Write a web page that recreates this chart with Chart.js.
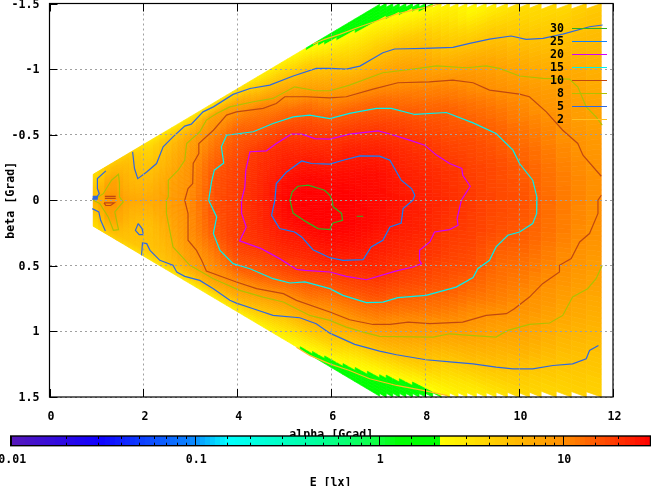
<!DOCTYPE html>
<html><head><meta charset="utf-8">
<style>html,body{margin:0;padding:0;background:#fff}canvas{position:absolute;left:0;top:0}</style>
<script src="https://cdn.jsdelivr.net/npm/chart.js@4"></script>
</head><body>
<canvas id="map" width="651" height="486"></canvas>
<canvas id="bar" width="651" height="486"></canvas>
<script>
const alphaNodes=[0.93,1.3,1.7,2.1,2.5,3,3.5,4,4.5,5,5.5,6,6.5,7,7.5,8,8.5,9,9.5,10,10.5,11,11.4,11.75];
const fanNodes=[-0.2125,-0.1859,-0.1594,-0.1328,-0.1062,-0.0797,-0.0531,-0.0266,0,0.0266,0.0531,0.0797,0.1062,0.1328,0.1594,0.1859,0.2125];
const illuminance=[
[3.2,3.4,3.6,3.8,4,4.3,4.5,4.8,5.5,5.5,5.2,4.6,4.3,4,3.8,3.5,3.3],
[4.4,5.3,6,7,8.2,8.5,9,10,9,10,9,8.5,8.2,7,6,5.3,4.4],
[4,5,5.4,5.6,5.8,6,6.3,6.8,7.5,6.8,6.3,6,5.6,5.3,5.1,4.9,3.8],
[3.1,3.8,4.2,4.6,5,5.4,5.8,6.3,7,6.3,5.8,5.3,5.1,5.1,5,4.7,3.2],
[3,4.6,5.3,5.8,6.2,6.8,7.4,7.8,8.1,7.8,7.3,6.8,6.4,6,5.6,5.2,3.3],
[2.9,5.2,7.6,8.4,9,9.6,9.8,10,10.5,10.2,10.1,10,9.6,8.8,8.1,5.8,2.9],
[3,8,9.6,11.5,13,14.5,15.5,16,16,16,15.5,14.5,12.5,11,10,6.8,2.9],
[3,7.6,11,14.5,16,17.5,18.5,19,19.3,19.2,19.2,19.3,17,14.5,9.9,6.5,2.8],
[2.7,5.3,11,13.5,17,20.5,21.5,22.5,23,22.5,22,20.2,17,14,8.8,5.1,2.6],
[2.6,4.9,9.2,13.5,18,22,24,27,28.5,27,24.5,22,18,12.5,7.6,4.2,2.4],
[2.1,4.5,7.3,12.5,17,21,25,29,33,31,26,22,17.5,12.5,7.7,4,2],
[1.6,3.4,5.9,9.6,14.7,19.8,24,28,31,31,27.5,23,16.5,11,6.8,3.7,1.6],
[1.5,2.9,4.7,8.7,14.3,19.8,24.6,28,29.5,29.5,26.5,22,16.5,11,6,2.8,1.5],
[1.5,2.8,5,8.5,13.8,19,24,27.5,28,27,24,21.5,16,10.5,5.6,2.4,1.5],
[1.4,2.35,4.9,8,12,17.5,21.8,24,25.5,24.5,22,18.5,13.5,8.7,5,2,1.4],
[1.6,2,4.2,7,11,15.5,20,22.5,23.5,23,20.5,16.6,12,7.4,4.2,1.6,1.5],
[1.6,1.9,3.3,5.2,10.2,14.7,17.5,20.5,21.5,20,18,15,10.6,6,3.2,1.9,1.6],
[1.8,2,2.4,5,8.9,12.8,16.5,18.5,19.5,18.5,17,12.8,9,5.6,2.9,2.2,2],
[2,2.2,2.5,4.8,8,11.3,15,17,17.5,16.5,13.5,11.5,7.7,5.1,2.8,2.5,2.3],
[2.5,2.6,2.7,4.2,6.6,10,12.5,15.2,16.5,15.2,12.6,10,7.3,4.6,3,2.9,2.8],
[2.8,2.9,3,3.8,5.8,8.3,11,12.8,13.8,13,11,8.6,6.1,4,3.3,3.2,3],
[3.2,3.3,3.4,3.7,5.5,8.1,9.3,10.9,11.7,11,9.4,7.2,5.2,3.9,3.6,3.5,3.4],
[3.8,3.9,4,4.1,5.6,6.9,8.3,10,10.5,9.9,8.3,6.6,5,4,3.9,3.8,3.7],
[4,4.1,4.2,4.3,5.4,6.5,7.8,9.1,9.8,9.2,7.6,6.2,4.6,3.8,3.7,3.6,3.5]];
const columnEdges=[0.93,1.05,1.18,1.31,1.44,1.57,1.7,1.83,1.96,2.09,2.22,2.35,2.48,2.61,2.74,2.87,3,3.13,3.26,3.39,3.52,3.65,3.78,3.91,4.04,4.17,4.3,4.43,4.56,4.69,4.82,4.95,5.08,5.21,5.34,5.47,5.6,5.73,5.86,5.99,6.12,6.25,6.38,6.51,6.64,6.77,6.9,7.03,7.17,7.31,7.45,7.59,7.73,7.87,8.01,8.16,8.34,8.52,8.7,8.89,9.09,9.3,9.51,9.75,9.99,10.22,10.47,10.79,11.11,11.43,11.75];
const legendLabels=['30','25','20','15','10','8','5','2'];
const legendColors=['#30b020','#1080ff','#d000ff','#00f0f0','#c04810','#b0c000','#3068e0','#ffc020'];
const xTicks=[0,2,4,6,8,10,12];
const yTicks=[-1.5,-1,-0.5,0,0.5,1,1.5];
const cbMajors=[0.01,0.1,1,10];
const cbStops=[[0.01,[88,24,184]],[0.0305,[16,0,255]],[0.1,[10,138,255]],[0.152,[0,255,255]],[0.45,[0,255,160]],[1,[16,255,64]],[1.3,[0,255,0]],[2.149,[0,255,0]],[2.15,[255,255,0]],[10,[255,144,0]],[30,[255,0,0]]];
const c30=[[6.02,0],[6.04,.05],[6.22,.10],[6.24,.153],[6.04,.173],[5.99,.204],[5.97,.224],[5.72,.216],[5.47,.165],[5.19,.10],[5.12,0],[5.17,-.064],[5.29,-.107],[5.51,-.115],[5.86,-.076],[5.97,-.038],[6.02,0],null,[6.54,.122],[6.68,.122]];
const c25=[[4.80,0],[4.83,-.127],[5.05,-.216],[5.37,-.30],[5.58,-.28],[5.97,-.275],[6.25,-.305],[6.61,-.338],[7.03,-.336],[7.25,-.305],[7.49,-.153],[7.71,-.089],[7.78,-.038],[7.74,0],[7.53,.064],[7.49,.173],[7.25,.204],[7.10,.305],[6.85,.356],[6.68,.453],[6.25,.458],[5.97,.438],[5.61,.377],[5.37,.28],[5.22,.242],[4.90,.216],[4.73,.115],[4.80,0]];
const c20=[[4.09,0],[4.16,-.10],[4.18,-.23],[4.27,-.37],[4.62,-.377],[4.83,-.433],[5.15,-.504],[5.37,-.504],[5.65,-.47],[5.97,-.466],[6.39,-.504],[7.0,-.529],[7.21,-.509],[7.67,-.458],[7.99,-.42],[8.24,-.344],[8.52,-.28],[8.78,-.242],[8.80,-.19],[8.96,-.107],[8.77,0],[8.68,.14],[8.70,.19],[8.52,.224],[8.20,.242],[8.10,.318],[7.88,.382],[7.88,.458],[7.92,.483],[7.74,.509],[7.39,.539],[6.75,.606],[6.32,.58],[5.97,.547],[5.44,.534],[5.26,.527],[4.90,.445],[4.51,.369],[4.05,.31],[4.19,.204],[4.09,.10],[4.09,0]];
const c15=[[3.39,0],[3.45,-.14],[3.51,-.229],[3.71,-.285],[3.66,-.407],[3.77,-.496],[4.34,-.522],[4.76,-.585],[5.19,-.636],[5.54,-.649],[5.97,-.623],[6.39,-.662],[6.96,-.70],[7.28,-.70],[7.78,-.654],[8.45,-.669],[9.02,-.59],[9.51,-.509],[9.87,-.382],[10.01,-.28],[10.29,-.153],[10.38,-.025],[10.37,0],[10.38,.10],[10.29,.178],[10.01,.242],[9.76,.267],[9.51,.356],[9.37,.458],[9.12,.522],[9.02,.59],[8.66,.662],[8.02,.725],[7.42,.743],[7.10,.776],[6.75,.781],[6.25,.725],[5.97,.674],[5.44,.623],[5.12,.631],[4.76,.598],[4.27,.522],[3.91,.483],[3.63,.382],[3.49,.254],[3.56,.127],[3.39,0]];
const c10=[[2.88,0],[2.95,-.089],[3.05,-.127],[3.06,-.28],[3.18,-.356],[3.18,-.433],[3.49,-.534],[3.77,-.649],[3.98,-.674],[4.55,-.70],[4.83,-.738],[5.01,-.789],[5.47,-.789],[5.97,-.781],[6.32,-.789],[6.89,-.847],[7.42,-.896],[8.09,-.903],[8.59,-.916],[9.02,-.896],[9.37,-.84],[10.01,-.809],[10.22,-.789],[10.58,-.674],[10.93,-.534],[11.25,-.433],[11.36,-.344],[11.75,-.183],null,[11.75,-.038],[11.68,0],[11.68,.10],[11.5,.254],[11.29,.318],[11.11,.445],[10.86,.496],[10.86,.547],[10.5,.636],[10.22,.738],[9.90,.827],[9.73,.865],[9.30,.878],[8.80,.929],[8.10,.941],[7.64,.929],[7.25,.947],[6.89,.947],[6.39,.911],[5.97,.852],[5.26,.763],[4.98,.712],[4.41,.674],[3.98,.623],[3.34,.539],[3.24,.458],[3.13,.382],[2.95,.305],[2.95,.102],[2.88,0],null,[1.18,-.03],[1.41,-.03],null,[1.18,-.015],[1.41,-.015],null,[1.16,.02],[1.38,.02],[1.3,.04],[1.2,.04],[1.16,.02]];
const c8=[[2.53,-.025],[2.53,-.153],[2.74,-.229],[2.88,-.305],[2.92,-.433],[3.2,-.522],[3.34,-.611],[3.56,-.662],[3.84,-.712],[4.34,-.751],[4.76,-.776],[5.22,-.865],[5.68,-.835],[5.97,-.835],[6.39,-.878],[7.1,-.972],[7.74,-1.0],[8.24,-1.025],[8.88,-1.01],[9.3,-1.025],[9.58,-1.005],[10.01,-.947],[10.51,-.929],[11.07,-.924],[11.25,-.865],[11.43,-.712],[11.64,-.636],[11.77,-.573],null,[11.77,.496],[11.64,.598],[11.46,.674],[11.14,.738],[10.93,.878],[10.65,.936],[10.22,.947],[9.76,.992],[9.51,1.043],[8.95,1.03],[8.52,1.018],[8.17,1.043],[7.03,1.038],[6.68,1.005],[6.32,.967],[5.97,.916],[5.54,.878],[4.98,.776],[4.55,.738],[4.05,.687],[3.49,.598],[2.99,.496],[2.63,.356],[2.49,.10],[2.49,0],[2.53,-.025],null,[.93,0],[1.145,-.05],[1.32,-.153],[1.47,-.198],[1.49,-.127],[1.49,-.025],[1.57,.013],[1.39,.089],[1.47,.224],[1.36,.229],[1.25,.127],[1.07,.025],[.93,0]];
const c5=[[1.77,-.369],[1.81,-.242],[1.88,-.165],[2.07,-.216],[2.28,-.28],[2.42,-.407],[2.63,-.483],[2.88,-.565],[3.02,-.58],[3.27,-.674],[3.49,-.712],[3.91,-.807],[4.27,-.852],[4.69,-.878],[5.19,-.947],[5.68,-1.005],[5.97,-1.005],[6.32,-1.0],[6.61,-1.023],[6.89,-1.081],[7.1,-1.125],[7.35,-1.153],[7.99,-1.158],[8.59,-1.165],[8.95,-1.196],[9.37,-1.229],[9.83,-1.252],[10.15,-1.226],[10.51,-1.234],[10.93,-1.267],[11.5,-1.323],[11.78,-1.336],null,[11.69,1.107],[11.5,1.145],[11.43,1.209],[11.14,1.247],[10.72,1.26],[10.29,1.285],[9.87,1.285],[9.51,1.272],[9.02,1.247],[8.59,1.234],[8.02,1.216],[7.39,1.178],[7.03,1.15],[6.5,1.099],[5.97,1.013],[5.68,.941],[5.33,.896],[4.76,.878],[4.34,.827],[3.98,.784],[3.84,.763],[3.49,.674],[3.2,.611],[2.88,.58],[2.71,.547],[2.63,.496],[2.35,.458],[2.14,.382],[2.07,.331],[1.98,.326],[1.96,.42],null,[1.89,.178],[1.83,.229],[1.91,.262],[2.0,.262],[1.97,.216],[1.89,.178],null,[1.2,-.224],[1.02,-.165],[1.02,-.089],[1.06,-.05],[1.0,-.02],[.91,-.008],null,[.91,.064],[1.05,.089],[1.09,.153],[1.19,.234]];
const c5patch=[[.92,-.02],[1.03,-.02]];
const c2=[[5.61,-1.19],[5.86,-1.227],[6.18,-1.265],[6.61,-1.323],[7.03,-1.374],[7.39,-1.42],[7.81,-1.455],[8.13,-1.48],[8.34,-1.5],null,[5.26,1.12],[5.54,1.183],[5.97,1.247],[6.39,1.298],[6.82,1.361],[7.39,1.412],[7.95,1.45],[8.48,1.489]];

const MONO="'DejaVu Sans Mono', monospace";
const fontBold={family:MONO,size:11.6,weight:'bold'};
const FAN_EDGE=0.2125,FAN_ROWS=128,LEVELS=128,MAP_LEVELS=320,CB_MIN=0.01,CB_MAX=30;
function colorOf(v,levels){
  const span=Math.log10(CB_MAX/CB_MIN);
  let p=Math.log10(Math.max(CB_MIN,Math.min(CB_MAX,v))/CB_MIN)/span;
  p=(Math.floor(p*levels-1e-9)+0.5)/levels;
  const e=CB_MIN*Math.pow(10,p*span);
  for(let i=1;i<cbStops.length;i++){
    if(e<=cbStops[i][0]){
      const a=cbStops[i-1],b=cbStops[i];
      const t=Math.log(e/a[0])/Math.log(b[0]/a[0]);
      const c=a[1].map((q,k)=>Math.round(q+(b[1][k]-q)*t));
      return 'rgb('+c.join(',')+')';
    }
  }
  return 'rgb(255,0,0)';
}
function lookup(al,f){
  let i=0;while(i<alphaNodes.length-2&&al>alphaNodes[i+1])i++;
  const t=Math.max(0,Math.min(1,(al-alphaNodes[i])/(alphaNodes[i+1]-alphaNodes[i])));
  const pos=(f+FAN_EDGE)/(2*FAN_EDGE)*(fanNodes.length-1);
  const j=Math.max(0,Math.min(fanNodes.length-2,Math.floor(pos)));
  const u=pos-j;
  const g=illuminance;
  const v=(1-t)*((1-u)*Math.log(g[i][j])+u*Math.log(g[i][j+1]))+t*((1-u)*Math.log(g[i+1][j])+u*Math.log(g[i+1][j+1]));
  return Math.exp(v);
}
const heatPlugin={id:'heat',beforeDatasetsDraw(chart){
  const ctx=chart.ctx,X=chart.scales.x,Y=chart.scales.y;
  ctx.save();
  const area=chart.chartArea;
  ctx.beginPath();ctx.rect(area.left,area.top,area.width,area.height);ctx.clip();
  ctx.lineWidth=0.7;
  for(let c=0;c<columnEdges.length-1;c++){
    const a0=columnEdges[c],a1=columnEdges[c+1],mid=(a0+a1)/2;
    const lim=Math.min(FAN_EDGE,1.5/a1);
    for(let r=0;r<FAN_ROWS;r++){
      let f0=-FAN_EDGE+r*2*FAN_EDGE/FAN_ROWS,f1=f0+2*FAN_EDGE/FAN_ROWS;
      if(f1<=-lim||f0>=lim)continue;
      f0=Math.max(f0,-lim);f1=Math.min(f1,lim);
      const col=colorOf(lookup(mid,(f0+f1)/2),MAP_LEVELS);
      ctx.fillStyle=col;ctx.strokeStyle=col;
      ctx.beginPath();
      ctx.moveTo(X.getPixelForValue(a0),Y.getPixelForValue(f0*a0));
      ctx.lineTo(X.getPixelForValue(a1),Y.getPixelForValue(f0*a1));
      ctx.lineTo(X.getPixelForValue(a1),Y.getPixelForValue(f1*a1));
      ctx.lineTo(X.getPixelForValue(a0),Y.getPixelForValue(f1*a0));
      ctx.closePath();ctx.fill();ctx.stroke();
    }
  }
  ctx.restore();
}};
const framePlugin={id:'frame',afterDraw(chart){
  const ctx=chart.ctx,a=chart.chartArea,X=chart.scales.x,Y=chart.scales.y;
  ctx.save();ctx.strokeStyle='#000';ctx.lineWidth=1;
  ctx.beginPath();
  xTicks.forEach(t=>{const p=Math.round(X.getPixelForValue(t))+.5;
    ctx.moveTo(p,a.bottom);ctx.lineTo(p,a.bottom-8);ctx.moveTo(p,a.top);ctx.lineTo(p,a.top+8);});
  yTicks.forEach(t=>{const p=Math.round(Y.getPixelForValue(t))+.5;
    ctx.moveTo(a.left,p);ctx.lineTo(a.left+8,p);});
  ctx.stroke();
  ctx.lineWidth=1.2;ctx.strokeRect(a.left,a.top,a.width,a.height);
  ctx.font='bold 11.6px '+MONO;ctx.textAlign='right';ctx.textBaseline='middle';
  legendLabels.forEach((l,i)=>{
    const y=29+i*13;
    ctx.fillStyle='#000';ctx.fillText(l,564,y);
    ctx.strokeStyle=legendColors[i];ctx.lineWidth=1.2;
    ctx.beginPath();ctx.moveTo(572,y-.5);ctx.lineTo(607,y-.5);ctx.stroke();
  });
  ctx.restore();
}};
const toPts=a=>a.map(p=>p?{x:p[0],y:p[1]}:{x:NaN,y:NaN});
const line=(label,pts,color,w)=>({type:'line',label,data:toPts(pts),borderColor:color,borderWidth:w||1.2,pointRadius:0,tension:0,fill:false,spanGaps:false});
const heatPoints=[];
alphaNodes.forEach((al,i)=>fanNodes.forEach((f,j)=>heatPoints.push({x:al,y:f*al,v:illuminance[i][j]})));
new Chart(document.getElementById('map'),{
  type:'scatter',
  data:{datasets:[
    {label:'E',data:heatPoints,pointRadius:0,showLine:false},
    line('2',c2,legendColors[7]),line('5',c5,legendColors[6]),line('5b',c5patch,legendColors[6],4),line('8',c8,legendColors[5]),
    line('10',c10,legendColors[4]),line('15',c15,legendColors[3]),line('20',c20,legendColors[2]),line('25',c25,legendColors[1]),line('30',c30,legendColors[0])
  ]},
  options:{responsive:false,animation:false,devicePixelRatio:1,
    layout:{padding:{left:0,top:3.5,right:38,bottom:44.5}},
    plugins:{legend:{display:false},tooltip:{enabled:false}},
    scales:{
      x:{type:'linear',min:0,max:12,afterFit(s){s.height=44.5;s.paddingLeft=0;s.paddingRight=0;},
        afterBuildTicks(s){s.ticks=xTicks.map(v=>({value:v}));},
        grid:{z:1,color:'#a0a0a0',drawTicks:false},
        border:{display:false,dash:[2,3],z:1},
        ticks:{font:fontBold,color:'#000',padding:13,labelOffset:1.5,maxRotation:0,autoSkip:false,callback:v=>String(v)},
        title:{display:true,text:'alpha [Gcad]',font:fontBold,color:'#000',padding:0}},
      y:{type:'linear',reverse:true,min:-1.5,max:1.5,afterFit(s){s.width=49.5;s.paddingTop=0;s.paddingBottom=0;},
        afterBuildTicks(s){s.ticks=yTicks.map(v=>({value:v}));},
        grid:{z:1,color:'#a0a0a0',drawTicks:false},
        border:{display:false,dash:[2,3],z:1},
        ticks:{font:fontBold,color:'#000',padding:10,labelOffset:1,autoSkip:false,callback:v=>String(v)},
        title:{display:true,text:'beta [Grad]',font:fontBold,color:'#000',padding:{top:4,bottom:0}}}
    }},
  plugins:[heatPlugin,framePlugin]
});
const barPlugin={id:'cb',beforeDatasetsDraw(chart){
  const ctx=chart.ctx,X=chart.scales.x,a=chart.chartArea;
  ctx.save();
  const span=Math.log10(CB_MAX/CB_MIN);
  for(let i=0;i<LEVELS;i++){
    const v0=CB_MIN*Math.pow(10,i/LEVELS*span),v1=CB_MIN*Math.pow(10,(i+1)/LEVELS*span);
    const x0=X.getPixelForValue(v0),x1=X.getPixelForValue(v1);
    ctx.fillStyle=colorOf(Math.sqrt(v0*v1),LEVELS);
    ctx.fillRect(Math.floor(x0),a.top,Math.ceil(x1)-Math.floor(x0),a.height);
  }
  ctx.strokeStyle='#000';ctx.lineWidth=1;ctx.beginPath();
  X.ticks.forEach(t=>{
    const p=Math.round(X.getPixelForValue(t.value))+.5;
    if(cbMajors.includes(+t.value.toPrecision(3))){ctx.moveTo(p,a.top);ctx.lineTo(p,a.bottom);}
    else{ctx.moveTo(p,a.top);ctx.lineTo(p,a.top+3);ctx.moveTo(p,a.bottom);ctx.lineTo(p,a.bottom-3);}
  });
  ctx.stroke();
  ctx.lineWidth=1.4;ctx.strokeRect(a.left,a.top,a.width,a.height);
  ctx.restore();
}};
new Chart(document.getElementById('bar'),{
  type:'scatter',
  data:{datasets:[{label:'E [lx]',data:cbMajors.map(v=>({x:v,y:0.5})),pointRadius:0,showLine:false}]},
  options:{responsive:false,animation:false,devicePixelRatio:1,
    layout:{padding:{left:10.7,right:0.5,top:436,bottom:0}},
    plugins:{legend:{display:false},tooltip:{enabled:false}},
    scales:{
      x:{type:'logarithmic',min:CB_MIN,max:CB_MAX,afterFit(s){s.height=40.3;s.paddingLeft=0;s.paddingRight=0;},
        grid:{display:false},border:{display:false},
        ticks:{font:fontBold,color:'#000',padding:-1,labelOffset:1.5,maxRotation:0,autoSkip:false,
          callback:v=>cbMajors.includes(+(+v).toPrecision(3))?String(+(+v).toPrecision(3)):''},
        title:{display:true,text:'E [lx]',font:fontBold,color:'#000',padding:{top:0,bottom:-4}}},
      y:{type:'linear',min:0,max:1,display:false}
    }},
  plugins:[barPlugin]
});
</script>
</body></html>
